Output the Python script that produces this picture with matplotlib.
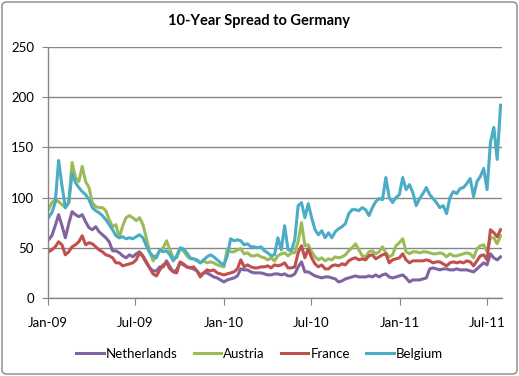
import matplotlib
matplotlib.use("Agg")
import matplotlib.pyplot as plt
import matplotlib.dates as mdates
from matplotlib.patches import FancyBboxPatch
import pandas as pd

# weekly readings, first Friday of 2009 onwards
dates = pd.date_range("2009-01-02", periods=135, freq="7D")

netherlands = [58, 62, 72, 83, 72, 60, 74, 86, 83, 81, 83, 76, 70, 68, 71, 66, 63, 60, 56, 47,
               47, 45, 42, 40, 43, 41, 44, 46, 42, 36, 30, 27, 27, 31, 31, 37, 31, 26, 28, 35,
               33, 31, 30, 29, 27, 23, 25, 25, 23, 21, 20, 18, 16, 18, 19, 20, 22, 29, 28, 28,
               26, 25, 25, 25, 24, 23, 23, 24, 24, 23, 24, 22, 22, 24, 31, 36, 26, 26, 24, 22,
               21, 20, 21, 21, 20, 19, 16, 17, 19, 20, 21, 22, 21, 21, 21, 22, 21, 23, 21, 23,
               24, 21, 20, 21, 22, 23, 20, 16, 18, 18, 18, 19, 20, 29, 30, 29, 28, 29, 29, 28,
               28, 29, 28, 28, 28, 27, 26, 29, 32, 35, 33, 44, 40, 38, 41]
austria = [88, 95, 98, 96, 93, 90, 95, 135, 120, 116, 131, 116, 110, 95, 91, 90, 90, 87, 78, 71,
           73, 60, 72, 80, 82, 80, 77, 80, 73, 60, 46, 37, 42, 47, 50, 57, 48, 40, 40, 49,
           47, 42, 39, 39, 37, 35, 37, 35, 36, 35, 33, 32, 31, 49, 46, 46, 48, 49, 44, 45,
           42, 42, 43, 41, 40, 38, 40, 37, 42, 44, 45, 42, 45, 45, 56, 75, 52, 53, 46, 41,
           38, 40, 37, 39, 38, 41, 40, 41, 43, 47, 50, 54, 48, 42, 41, 46, 47, 44, 46, 51,
           45, 41, 43, 52, 55, 59, 46, 44, 46, 46, 45, 46, 46, 45, 44, 44, 45, 44, 41, 44,
           42, 42, 43, 44, 45, 44, 40, 49, 52, 53, 46, 60, 60, 54, 62]
france = [46, 48, 51, 56, 53, 43, 46, 51, 53, 56, 62, 53, 55, 54, 51, 48, 46, 43, 42, 40,
          35, 35, 32, 33, 34, 35, 38, 45, 41, 35, 30, 24, 22, 28, 33, 35, 29, 26, 25, 36,
          34, 31, 30, 31, 27, 21, 25, 28, 27, 28, 25, 24, 23, 24, 25, 26, 29, 38, 31, 33,
          31, 30, 30, 31, 31, 32, 30, 33, 32, 33, 35, 30, 30, 31, 45, 52, 40, 49, 40, 34,
          31, 33, 29, 29, 32, 33, 32, 34, 33, 37, 39, 40, 38, 39, 38, 42, 43, 39, 41, 43,
          44, 35, 38, 39, 40, 44, 38, 35, 37, 37, 37, 37, 38, 37, 35, 36, 36, 34, 32, 35,
          36, 35, 36, 35, 37, 36, 32, 37, 42, 43, 38, 68, 65, 61, 68]
belgium = [80, 85, 95, 137, 112, 90, 95, 124, 115, 110, 106, 103, 98, 90, 87, 85, 82, 78, 73, 68,
           62, 60, 61, 59, 60, 59, 61, 63, 60, 52, 45, 42, 40, 48, 46, 47, 43, 37, 42, 50,
           49, 45, 40, 39, 38, 35, 38, 41, 43, 41, 38, 35, 33, 42, 59, 57, 58, 57, 53, 54,
           51, 51, 50, 51, 47, 45, 42, 43, 60, 48, 72, 48, 47, 58, 92, 95, 80, 94, 80, 68,
           63, 67, 60, 65, 60, 66, 69, 71, 74, 84, 88, 88, 87, 90, 88, 82, 90, 96, 99, 98,
           120, 100, 95, 100, 103, 120, 108, 113, 105, 92, 99, 104, 110, 103, 99, 95, 90, 92, 84, 100,
           106, 104, 109, 110, 114, 119, 101, 116, 121, 129, 108, 155, 170, 138, 192]

series = [("Netherlands", netherlands, "#8064A2"),
          ("Austria", austria, "#9BBB59"),
          ("France", france, "#C0504D"),
          ("Belgium", belgium, "#4BACC6")]

plt.rcParams['font.family'] = ['Lato', 'DejaVu Sans']
grey = "#868686"

fig = plt.figure(figsize=(5.19, 3.76), dpi=100)
ax = fig.add_axes([48/519, 1-298/376, (502-48)/519, (298-47)/376])

for name, vals, col in series:
    ax.plot(dates, vals, color=col, lw=2.2, label=name, solid_joinstyle="round")

ax.set_ylim(0, 250)
ax.set_yticks(range(0, 251, 50))
ax.set_xlim(pd.Timestamp("2009-01-01"), pd.Timestamp("2011-08-01"))
ax.xaxis.set_major_locator(mdates.MonthLocator(bymonth=[1, 7]))
ax.xaxis.set_major_formatter(mdates.DateFormatter("%b-%y"))

ax.grid(axis="y", color=grey, lw=1)
ax.set_axisbelow(True)
for s in ["top", "right"]:
    ax.spines[s].set_visible(False)
for s in ["left", "bottom"]:
    ax.spines[s].set_color(grey)
    ax.spines[s].set_linewidth(1)
ax.tick_params(axis="x", direction="out", length=5, color=grey, pad=9, labelsize=9.5)
ax.tick_params(axis="y", direction="out", length=4, color=grey, pad=6, labelsize=9.5)

fig.text(0.5, 1-21/376, "10-Year Spread to Germany", ha="center", va="center",
         fontsize=10.5, fontweight="bold")

ax.legend(loc="center", bbox_to_anchor=(0.5, 1-354/376), bbox_transform=fig.transFigure,
          ncol=4, frameon=False, fontsize=9.5, handlelength=2.1, handletextpad=0.15,
          columnspacing=1.2)

fig.patches.append(FancyBboxPatch((2/519, 2/376), 515/519, 372/376,
                                  boxstyle="round,pad=0,rounding_size=0.01",
                                  transform=fig.transFigure, fill=False,
                                  edgecolor=grey, lw=1))

fig.savefig("out.png", dpi=100)
